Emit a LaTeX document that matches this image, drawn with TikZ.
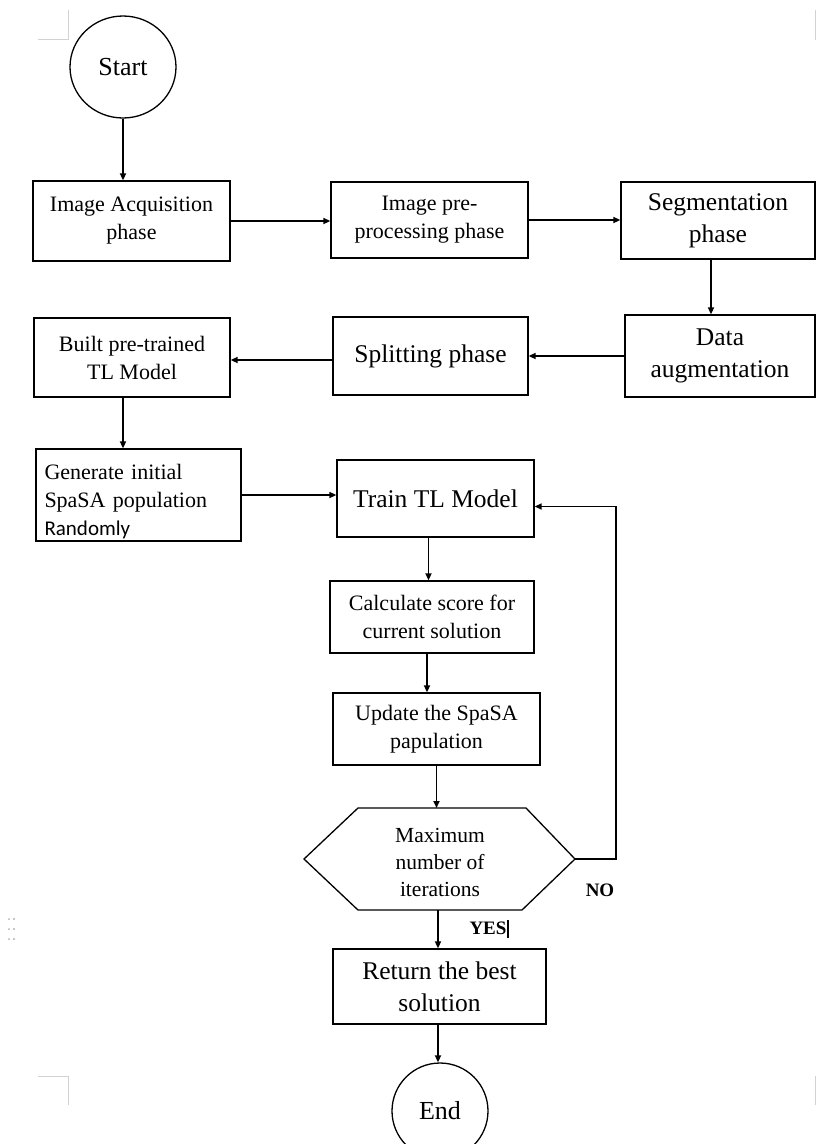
\documentclass[tikz,border=0pt]{standalone}
\usepackage{fontspec}
\setmainfont{Liberation Serif}
\newfontfamily\calibrifont{Carlito}
\usetikzlibrary{shapes.geometric,arrows.meta}
\begin{document}
\begin{tikzpicture}[x=1pt,y=-1pt,
 box/.style={draw,line width=1.3pt,rectangle,inner sep=0pt,align=center,font=\fontsize{22}{28}\selectfont},
 bigbox/.style={box,font=\fontsize{25.5}{32}\selectfont},
 term/.style={draw,line width=1.3pt,ellipse,inner sep=0pt,font=\fontsize{26}{30}\selectfont},
 flow/.style={line width=1.6pt,-{Triangle[length=7pt,width=6pt]}},
 cornermark/.style={draw=gray!35,line width=1pt},
 lbl/.style={inner sep=0pt,font=\bfseries\fontsize{19}{21}\selectfont}
]
\useasboundingbox (0,0) rectangle (816,1144);
\clip (0,0) rectangle (816,1144);

% page corner marks and margin dots
\draw[cornermark] (38,39) -- (68,39) -- (68,10);
\draw[cornermark] (815,10) -- (815,40);
\draw[cornermark] (38,1076) -- (68,1076) -- (68,1105);
\draw[cornermark] (815,1076) -- (815,1105);
\foreach \yy in {919,929,939}{
  \fill[gray!60] (9,\yy) circle (1pt);
  \fill[gray!60] (14,\yy) circle (1.2pt);
}

% nodes
\node[term,minimum width=106pt,minimum height=102pt] (start) at (123,67) {Start};
\node[box,minimum width=197pt,minimum height=80pt] (acq) at (131.5,221) {Image Acquisition\\phase};
\node[box,minimum width=197pt,minimum height=76pt] (pre) at (429.5,220) {Image pre-\\processing phase};
\node[bigbox,minimum width=194pt,minimum height=77pt] (seg) at (718,220.5) {Segmentation\\phase};
\node[bigbox,minimum width=190pt,minimum height=82pt] (aug) at (720,356) {Data\\augmentation};
\node[bigbox,minimum width=195pt,minimum height=78pt] (split) at (430.5,356) {Splitting phase};
\node[box,minimum width=196pt,minimum height=79pt] (built) at (132,357.5) {Built pre-trained\\TL Model};
\node[box,minimum width=205pt,minimum height=92pt,text width=188pt,align=left] (gen) at (138.5,495) {\rule{0pt}{29pt}Generate initial\\SpaSA population\\{\calibrifont\fontsize{21}{24}\selectfont Randomly}};
\node[bigbox,minimum width=197pt,minimum height=77pt] (train) at (435.5,498.5) {Train TL Model};
\node[box,minimum width=204pt,minimum height=72pt] (calc) at (432,617) {Calculate score for\\current solution};
\node[box,minimum width=207pt,minimum height=72pt] (upd) at (436.5,729) {Update the SpaSA\\papulation};

% decision hexagon
\coordinate (hT) at (436,808);
\coordinate (hB) at (438,910);
\coordinate (hR) at (575,859);
\draw[line width=1.3pt] (358,808) -- (526,808) -- (hR) -- (522,910) -- (358,910) -- (304,859) -- cycle;
\node[align=center,font=\fontsize{21.5}{27}\selectfont] (hex) at (440,862) {Maximum\\number of\\iterations};

\node[bigbox,minimum width=213pt,minimum height=75pt] (ret) at (439.5,986.5) {Return the best\\solution};
\node[term,minimum width=96pt,minimum height=96pt] (end) at (440,1111) {End};

% connectors
\draw[flow] (start.south) -- (start.south |- acq.north);
\draw[flow] (acq.east) -- (acq.east -| pre.west);
\draw[flow] (pre.east) -- (pre.east -| seg.west);
\draw[flow] ([xshift=-7pt]seg.south) -- ([xshift=-7pt]seg.south |- aug.north);
\draw[flow] (aug.west) -- (aug.west -| split.east);
\draw[flow] ([yshift=-4pt]split.west) -- ([yshift=-4pt]split.west -| built.east);
\draw[flow] ([xshift=-9pt]built.south) -- ([xshift=-9pt]built.south |- gen.north);
\draw[flow] (gen.east) -- (gen.east -| train.west);
\draw[flow] ([xshift=-7pt]train.south) -- ([xshift=-7pt]train.south |- calc.north);
\draw[flow] ([xshift=-5pt]calc.south) -- ([xshift=-5pt]calc.south |- upd.north);
\draw[flow] (upd.south) -- (upd.south |- hT);
\draw[flow] (hB) -- (hB |- ret.north);
\draw[flow] ([xshift=-1.5pt]ret.south) -- ([xshift=-1.5pt]ret.south |- end.north);
\coordinate (loopc) at (616,859);
\draw[flow] (hR) -- (loopc) |- ([yshift=-8pt]train.east);

% labels
\node[lbl] (no) at (600,890) {NO};
\node[lbl] (yes) at (488,928) {YES};
\draw[line width=1.8pt] ([xshift=1.5pt,yshift=1pt]yes.north east) -- ([xshift=1.5pt,yshift=-3pt]yes.south east);
\end{tikzpicture}
\end{document}
